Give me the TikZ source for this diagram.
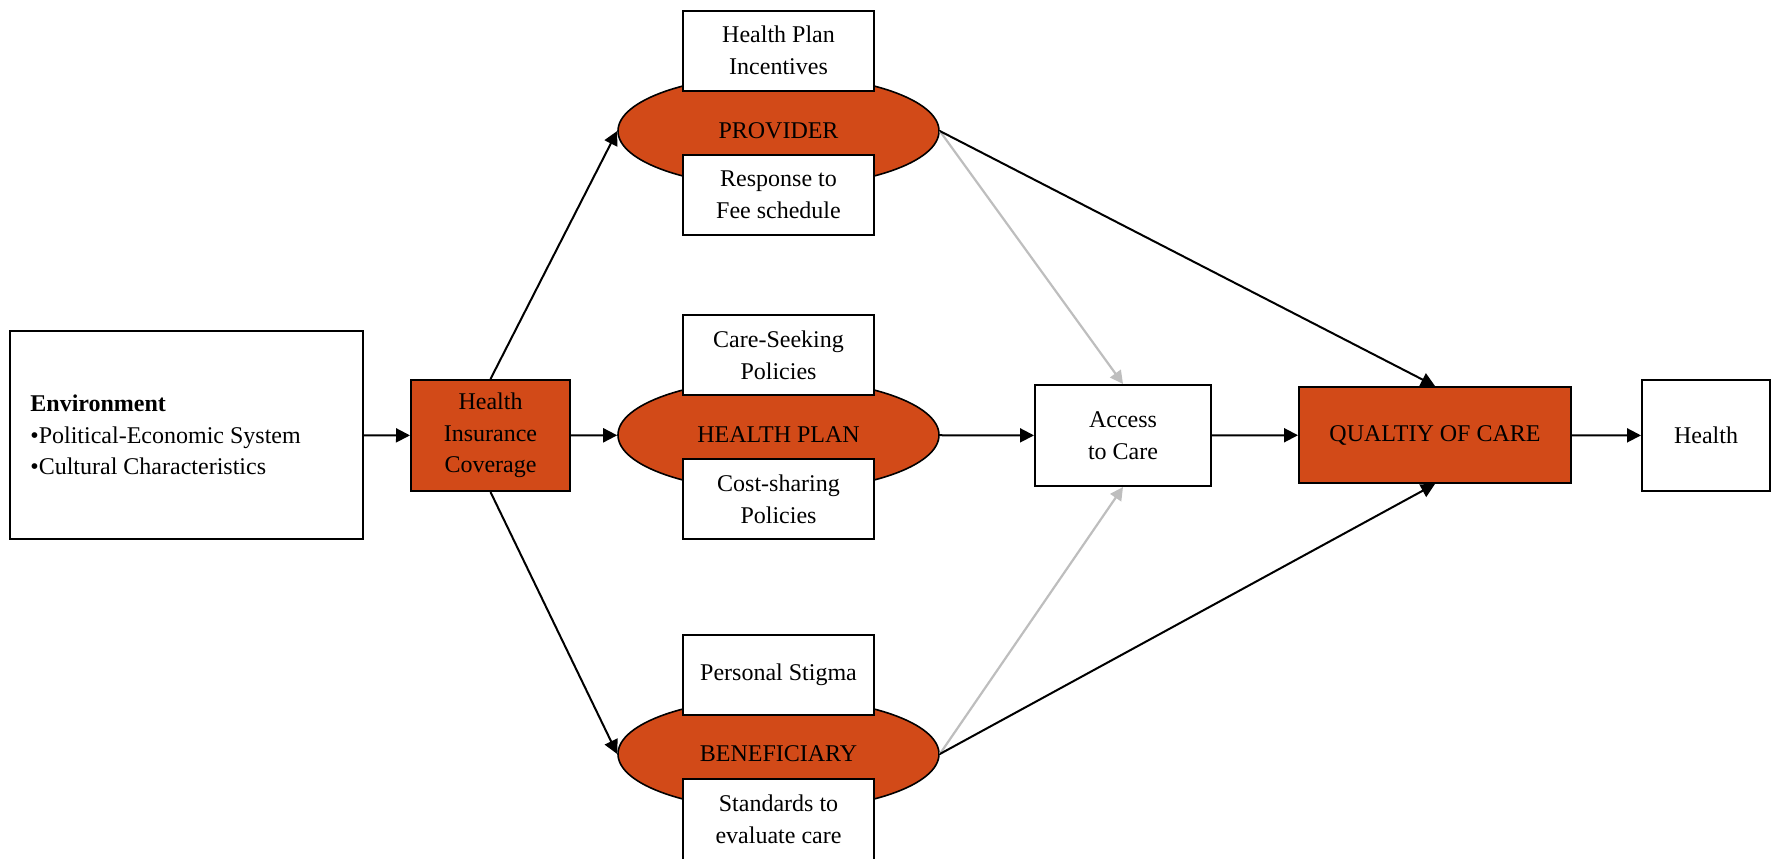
\documentclass[tikz,border=0pt]{standalone}
\usepackage{fontspec}
\setmainfont{Liberation Serif}
\usetikzlibrary{shapes.geometric,arrows.meta}
\definecolor{rust}{RGB}{210,74,24}
\definecolor{lgray}{RGB}{190,190,190}
\begin{document}
\begin{tikzpicture}[x=0.5pt,y=-0.5pt,
  txt/.style={font=\fontsize{12}{15.8}\selectfont},
  box/.style={txt,draw=black,line width=1pt,fill=white,align=center,inner sep=0pt},
  sbox/.style={box,minimum width=95.5pt,minimum height=40pt},
  hot/.style={box,fill=rust},
  oval/.style={txt,ellipse,draw=black,line width=0.8pt,fill=rust,inner sep=0pt,minimum width=160.5pt,minimum height=56pt},
  arr/.style={line width=1pt,-{Triangle[length=7pt,width=7pt]}},
  garr/.style={line width=1.1pt,draw=lgray,-{Triangle[length=6.5pt,width=6.5pt]}}]
\useasboundingbox (0,0) rectangle (1771,858);

% left boxes
\node[box,minimum width=176.5pt,minimum height=104pt] (env) at (186.5,435) {};
\node[txt,anchor=west,align=left,inner sep=0pt] (envt) at (30,435)
  {\textbf{Environment}\\•Political-Economic System\\•Cultural Characteristics};
\node[hot,minimum width=79.5pt,minimum height=55.5pt] (hic) at (490.5,435.5)
  {Health\\Insurance\\Coverage};

% ellipses
\node[oval] (prov) at (778.5,131) {PROVIDER};
\node[oval] (plan) at (778.5,435) {HEALTH PLAN};
\node[oval] (bene) at (778.5,754) {BENEFICIARY};

% small boxes
\node[sbox] (hpi) at (778.5,50.5) {Health Plan\\Incentives};
\node[sbox] (rfs) at (778.5,195) {Response to\\Fee schedule};
\node[sbox] (csp) at (778.5,355) {Care-Seeking\\Policies};
\node[sbox] (cost) at (778.5,499) {Cost-sharing\\Policies};
\node[sbox] (stig) at (778.5,675) {Personal Stigma};
\node[box,minimum width=95.5pt,minimum height=41pt] (std) at (778.5,819.5) {Standards to\\evaluate care};

% right boxes
\node[box,minimum width=88pt,minimum height=50.5pt] (acc) at (1123,435.5) {Access\\to Care};
\node[hot,minimum width=136pt,minimum height=48pt] (qoc) at (1435,435) {QUALTIY OF CARE};
\node[box,minimum width=64pt,minimum height=55.5pt] (hl) at (1706,435.5) {Health};

% connectors
\draw[arr] (env) -- (hic);
\draw[arr] (hic.north) -- (prov.west);
\draw[arr] (hic.south) -- (bene.west);
\draw[arr] (hic) -- (plan);
\draw[arr] (plan) -- (acc);
\draw[garr] (prov.east) -- (acc.north);
\draw[garr] (bene.east) -- (acc.south);
\draw[arr] (prov.east) -- (qoc.north);
\draw[arr] (bene.east) -- (qoc.south);
\draw[arr] (acc) -- (qoc);
\draw[arr] (qoc) -- (hl);
\end{tikzpicture}
\end{document}
